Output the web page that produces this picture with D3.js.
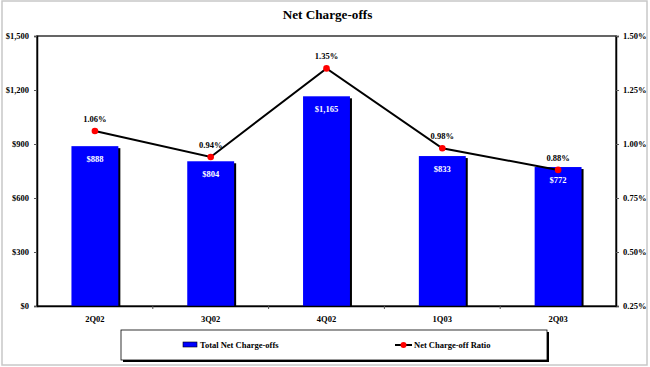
<!DOCTYPE html>
<html><head><meta charset="utf-8">
<script src="https://cdn.jsdelivr.net/npm/d3@7/dist/d3.min.js"></script>
<style>
html,body{margin:0;padding:0;background:#fff;}
svg{display:block;font-family:"Liberation Serif","Times New Roman",serif;font-weight:bold;}
</style></head>
<body>
<svg id="c" width="650" height="367"></svg>
<script>
const categories = ["2Q02","3Q02","4Q02","1Q03","2Q03"];
const chargeOffs = [888, 804, 1165, 833, 772];
const ratio = [1.06, 0.94, 1.35, 0.98, 0.88];
const leftTicks = [0, 300, 600, 900, 1200, 1500];
const rightTicks = [0.25, 0.50, 0.75, 1.00, 1.25, 1.50];
const seriesNames = ["Total Net Charge-offs", "Net Charge-off Ratio"];

const svg = d3.select("#c");
const L = 37, R = 616, T = 36, B = 306;

// outer frame
svg.append("rect").attr("x",2).attr("y",1).attr("width",645).attr("height",364)
  .attr("fill","none").attr("stroke","#c8c8c8").attr("stroke-width",1.5);

svg.append("text").attr("x",(L+R)/2+1).attr("y",19).attr("text-anchor","middle")
  .attr("font-size",13.2).text("Net Charge-offs");

const x = d3.scaleBand().domain(categories).range([L,R]).paddingInner(0.595).paddingOuter(0.2975);
const xc = d3.scaleBand().domain(categories).range([L,R]);
const y = d3.scaleLinear().domain([0,1500]).range([B,T]);
const y2 = d3.scaleLinear().domain([0.25,1.5]).range([B,T]);

// plot border
svg.append("rect").attr("x",L).attr("y",T).attr("width",R-L).attr("height",B-T)
  .attr("fill","none").attr("stroke","#333").attr("stroke-width",1.5);

// bars shadow + bars
const bars = chargeOffs.map((v,i)=>({c:categories[i],v}));
svg.selectAll(".sh").data(bars).join("rect")
  .attr("x",d=>x(d.c)+2).attr("y",d=>y(d.v)+2).attr("width",x.bandwidth()).attr("height",d=>B-y(d.v)-2)
  .attr("fill","#000");
svg.selectAll(".bar").data(bars).join("rect")
  .attr("x",d=>x(d.c)).attr("y",d=>y(d.v)).attr("width",x.bandwidth()).attr("height",d=>B-y(d.v))
  .attr("fill","#0000FF");
svg.selectAll(".bl").data(bars).join("text")
  .attr("x",d=>x(d.c)+x.bandwidth()/2).attr("y",d=>y(d.v)+16).attr("text-anchor","middle")
  .attr("font-size",8.5).attr("fill","#fff").text(d=>"$"+d3.format(",")(d.v));

// axes
const ax = svg.append("g").attr("transform",`translate(${L},0)`)
  .call(d3.axisLeft(y).tickValues(leftTicks).tickSize(3).tickFormat(d=>"$"+d3.format(",")(d)));
const ax2 = svg.append("g").attr("transform",`translate(${R},0)`)
  .call(d3.axisRight(y2).tickValues(rightTicks).tickSize(3).tickFormat(d=>d3.format(".2f")(d)+"%"));
const axb = svg.append("g").attr("transform",`translate(0,${B})`)
  .call(d3.axisBottom(xc).tickSize(0).tickPadding(10));
[ax,ax2,axb].forEach(g=>{
  g.selectAll("path").attr("stroke","#000").attr("stroke-width",1.5);
  g.selectAll("line").attr("stroke","#555");
  g.selectAll("text").attr("font-family","Liberation Serif, Times New Roman, serif")
   .attr("font-weight","bold").attr("font-size",8.5).attr("fill","#000");
});
ax.selectAll("text").attr("x",-8);
ax2.selectAll("text").attr("x",7);
// category boundary ticks
svg.selectAll(".ct").data(categories.slice(1)).join("line")
  .attr("x1",d=>xc(d)).attr("x2",d=>xc(d)).attr("y1",B).attr("y2",B+3).attr("stroke","#555");

// line
const pts = ratio.map((v,i)=>({c:categories[i],v}));
svg.append("path").datum(pts)
  .attr("d",d3.line().x(d=>xc(d.c)+xc.bandwidth()/2).y(d=>y2(d.v)))
  .attr("fill","none").attr("stroke","#000").attr("stroke-width",2);
svg.selectAll(".pt").data(pts).join("circle")
  .attr("cx",d=>xc(d.c)+xc.bandwidth()/2).attr("cy",d=>y2(d.v)).attr("r",3.3).attr("fill","#ff0000");
svg.selectAll(".pl").data(pts).join("text")
  .attr("x",d=>xc(d.c)+xc.bandwidth()/2).attr("y",d=>y2(d.v)-9).attr("text-anchor","middle")
  .attr("font-size",8.5).text(d=>d3.format(".2f")(d.v)+"%");

// legend
const lg = svg.append("g");
lg.append("rect").attr("x",123).attr("y",332).attr("width",426).attr("height",30).attr("fill","#000");
lg.append("rect").attr("x",121).attr("y",330).attr("width",426).attr("height",30).attr("fill","#fff")
  .attr("stroke","#000").attr("stroke-width",0.8);
lg.append("rect").attr("x",183).attr("y",342).attr("width",14).attr("height",5).attr("fill","#0000FF").attr("stroke","#000").attr("stroke-width",0.6);
lg.append("text").attr("x",200).attr("y",348).attr("font-size",8.5).text(seriesNames[0]);
lg.append("line").attr("x1",395).attr("x2",412).attr("y1",345).attr("y2",345).attr("stroke","#000").attr("stroke-width",2);
lg.append("circle").attr("cx",403.5).attr("cy",345).attr("r",3).attr("fill","#ff0000");
lg.append("text").attr("x",414).attr("y",348).attr("font-size",8.5).text(seriesNames[1]);
</script>
</body></html>
